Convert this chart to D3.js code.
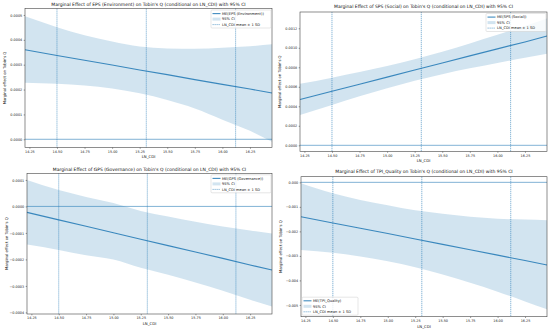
<!DOCTYPE html>
<html lang="en">
<head>
<meta charset="UTF-8" />
<title>Marginal effects</title>
<script src="https://d3js.org/d3.v7.min.js"></script>
<style>
  body { margin: 0; background: #fff; }
  svg { display: block; font-family: "DejaVu Sans", sans-serif; }
</style>
</head>
<body>
<svg width="550" height="331"></svg>
<script>
// LN_CDI grid the marginal effects were read at
const xGrid = [14.21, 14.5, 14.75, 15.0, 15.25, 15.5, 15.75, 16.0, 16.25, 16.45];

// EPS (Environment)
const epsME = [0.000360, 0.000337, 0.000318, 0.000299, 0.000279, 0.000260, 0.000240, 0.000221, 0.000202, 0.000186];
const epsHi = [0.000495, 0.000451, 0.000418, 0.000393, 0.000373, 0.000365, 0.000364, 0.000368, 0.000374, 0.000382];
const epsLo = [0.000227, 0.000223, 0.000216, 0.000204, 0.000185, 0.000158, 0.000124, 0.000079, 0.000034, -0.000010];

// SPS (Social)
const spsME = [0.000470, 0.000554, 0.000627, 0.000699, 0.000772, 0.000844, 0.000917, 0.000989, 0.001060, 0.001120];
const spsHi = [0.000630, 0.000694, 0.000752, 0.000814, 0.000882, 0.000959, 0.001045, 0.001134, 0.001223, 0.001300];
const spsLo = [0.000310, 0.000414, 0.000502, 0.000584, 0.000662, 0.000729, 0.000789, 0.000844, 0.000897, 0.000940];

// GPS (Governance)
const gpsME = [-0.0000226, -0.0000508, -0.0000750, -0.0000993, -0.000124, -0.000148, -0.000172, -0.000196, -0.000221, -0.000240];
const gpsHi = [0.000100, 0.000062, 0.000036, 0.000013, -0.000017, -0.000038, -0.000058, -0.000076, -0.000091, -0.000102];
const gpsLo = [-0.000144, -0.000164, -0.000184, -0.000200, -0.000231, -0.000258, -0.000287, -0.000318, -0.000352, -0.000378];

// TPI_Quality
const tpiME = [-0.00140, -0.00166, -0.00187, -0.00209, -0.00231, -0.00253, -0.00275, -0.00297, -0.00319, -0.00337];
const tpiHi = [-0.00004, -0.00045, -0.00072, -0.00093, -0.00114, -0.00128, -0.00140, -0.00148, -0.00152, -0.00155];
const tpiLo = [-0.00276, -0.00287, -0.00302, -0.00322, -0.00346, -0.00376, -0.00410, -0.00446, -0.00486, -0.00518];

// LN_CDI mean - 1 SD, mean, mean + 1 SD
const sdLines = [14.50, 15.31, 16.12];

const xTicks = [14.25, 14.5, 14.75, 15.0, 15.25, 15.5, 15.75, 16.0, 16.25];
const epsTicks = [0, 0.0001, 0.0002, 0.0003, 0.0004, 0.0005];
const spsTicks = [0, 0.0002, 0.0004, 0.0006, 0.0008, 0.0010, 0.0012];
const gpsTicks = [-0.0004, -0.0003, -0.0002, -0.0001, 0, 0.0001];
const tpiTicks = [-0.005, -0.004, -0.003, -0.002, -0.001, 0];

const blue = "#1f77b4";
const svg = d3.select("svg");

const panels = [
  { name: "EPS (Environment)", me: epsME, hi: epsHi, lo: epsLo, ticks: epsTicks, fmt: ".4f",
    box: [25, 8.5, 272, 147.5], ydom: [-0.000033, 0.000526], legend: "tr", titleY: 6.5, xlabY: 157.5 },
  { name: "SPS (Social)", me: spsME, hi: spsHi, lo: spsLo, ticks: spsTicks, fmt: ".4f",
    box: [300, 12, 547, 151.5], ydom: [-0.0000636, 0.001367], legend: "tr", titleY: 8.5, xlabY: 162 },
  { name: "GPS (Governance)", me: gpsME, hi: gpsHi, lo: gpsLo, ticks: gpsTicks, fmt: ".4f",
    box: [27, 173.3, 272, 314], ydom: [-0.000406, 0.000125], legend: "tr", titleY: 171.5, xlabY: 325 },
  { name: "TPI_Quality", me: tpiME, hi: tpiHi, lo: tpiLo, ticks: tpiTicks, fmt: ".3f",
    box: [301, 176.7, 547, 316.7], ydom: [-0.00548, 0.00023], legend: "bl", titleY: 173.5, xlabY: 327.5 }
];

panels.forEach(p => {
  const [x0, y0, x1, y1] = p.box;
  const x = d3.scaleLinear().domain([14.21, 16.45]).range([x0, x1]);
  const y = d3.scaleLinear().domain(p.ydom).range([y1, y0]);
  const g = svg.append("g");
  const rows = xGrid.map((v, i) => ({ x: v, me: p.me[i], hi: p.hi[i], lo: p.lo[i] }));

  // CI band
  g.append("path")
    .datum(rows)
    .attr("fill", blue).attr("fill-opacity", 0.2)
    .attr("d", d3.area().x(d => x(d.x)).y0(d => y(d.lo)).y1(d => y(d.hi)).curve(d3.curveMonotoneX));

  // zero line
  g.append("line")
    .attr("x1", x0).attr("x2", x1).attr("y1", y(0)).attr("y2", y(0))
    .attr("stroke", blue).attr("stroke-opacity", 0.7).attr("stroke-width", 0.8);

  // mean +/- SD lines
  g.selectAll(".sd").data(sdLines).join("line")
    .attr("x1", d => x(d)).attr("x2", d => x(d)).attr("y1", y0).attr("y2", y1)
    .attr("stroke", blue).attr("stroke-opacity", 0.75).attr("stroke-width", 0.7)
    .attr("stroke-dasharray", "1.3,0.7");

  // marginal effect
  g.append("path")
    .datum(rows)
    .attr("fill", "none").attr("stroke", blue).attr("stroke-opacity", 0.85).attr("stroke-width", 1.1)
    .attr("d", d3.line().x(d => x(d.x)).y(d => y(d.me)));

  // axes
  const xa = g.append("g").attr("transform", `translate(0,${y1})`)
    .call(d3.axisBottom(x).tickValues(xTicks).tickFormat(d3.format(".2f")).tickSize(1.3).tickPadding(1.5));
  const ya = g.append("g").attr("transform", `translate(${x0},0)`)
    .call(d3.axisLeft(y).tickValues(p.ticks).tickFormat(d => d3.format(p.fmt)(d).replace("-", "\u2212")).tickSize(1.3).tickPadding(1.5));
  [xa, ya].forEach(a => {
    a.select(".domain").remove();
    a.selectAll("line").attr("stroke", "#333").attr("stroke-width", 0.5);
    a.selectAll("text").attr("font-size", 3.4).attr("fill", "#222").attr("font-family", "DejaVu Sans");
  });

  g.append("rect")
    .attr("x", x0).attr("y", y0).attr("width", x1 - x0).attr("height", y1 - y0)
    .attr("fill", "none").attr("stroke", "#444").attr("stroke-width", 0.6);

  // texts
  g.append("text")
    .attr("x", (x0 + x1) / 2).attr("y", p.titleY - 1).attr("text-anchor", "middle")
    .attr("font-size", 4.5).attr("fill", "#111")
    .text(`Marginal Effect of ${p.name} on Tobin's Q (conditional on LN_CDI) with 95% CI`);
  g.append("text")
    .attr("x", (x0 + x1) / 2).attr("y", p.xlabY).attr("text-anchor", "middle")
    .attr("font-size", 3.8).attr("fill", "#111").text("LN_CDI");
  g.append("text")
    .attr("transform", `translate(${x0 - 19},${(y0 + y1) / 2}) rotate(-90)`)
    .attr("text-anchor", "middle").attr("font-size", 3.8).attr("fill", "#111")
    .text("Marginal effect on Tobin's Q");

  // legend
  const lw = p.legend === "tr" ? 60 : 56, lh = 18;
  const lx = p.legend === "tr" ? x1 - lw - 1 : x0 + 1;
  const ly = p.legend === "tr" ? y0 + 1.5 : y1 - lh - 1.5;
  const lg = g.append("g").attr("transform", `translate(${lx},${ly})`);
  lg.append("rect").attr("width", lw).attr("height", lh).attr("rx", 1)
    .attr("fill", "#fff").attr("fill-opacity", 0.8).attr("stroke", "#ccc").attr("stroke-width", 0.5);
  const items = [`ME(${p.name})`, "95% CI", "LN_CDI mean \u00b1 1 SD"];
  items.forEach((t, i) => {
    const cy = 3.6 + i * 5.5;
    if (i === 0) lg.append("line").attr("x1", 1.5).attr("x2", 9.5).attr("y1", cy).attr("y2", cy)
      .attr("stroke", blue).attr("stroke-opacity", 0.85).attr("stroke-width", 1.1);
    if (i === 1) lg.append("rect").attr("x", 1.5).attr("y", cy - 1.5).attr("width", 8).attr("height", 3)
      .attr("fill", blue).attr("fill-opacity", 0.2);
    if (i === 2) lg.append("line").attr("x1", 1.5).attr("x2", 9.5).attr("y1", cy).attr("y2", cy)
      .attr("stroke", blue).attr("stroke-opacity", 0.75).attr("stroke-width", 0.7).attr("stroke-dasharray", "1.3,0.7");
    lg.append("text").attr("x", 11).attr("y", cy).attr("dy", "0.35em")
      .attr("font-size", 3.6).attr("fill", "#111").text(t);
  });
});
</script>
</body>
</html>
